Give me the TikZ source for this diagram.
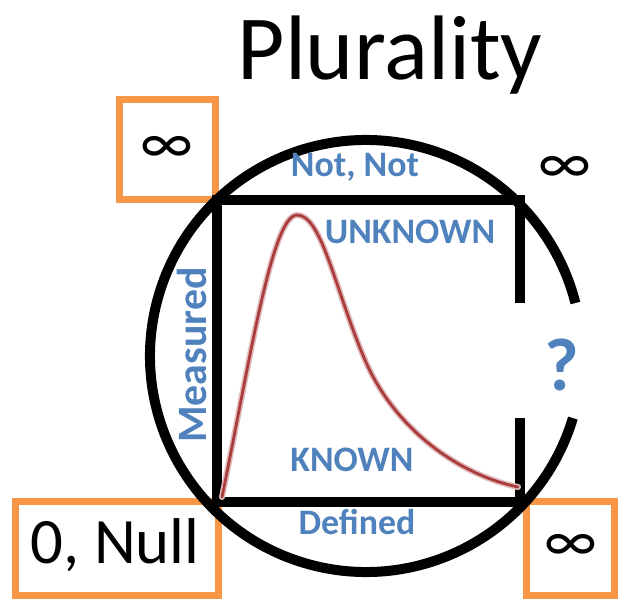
\documentclass[tikz,border=0pt]{standalone}
\usepackage{fontspec}
\setmainfont{Carlito}
\usetikzlibrary{positioning,calc}

\definecolor{labelblue}{RGB}{79,129,189}
\definecolor{boxorange}{RGB}{247,150,70}
\definecolor{curvered}{RGB}{170,60,62}

\begin{document}
\begin{tikzpicture}[
    x=1bp, y=-1bp,
    frame/.style={draw=boxorange, line width=7bp, inner sep=0pt},
    edge/.style={draw=black, line width=10bp},
    tag/.style={text=labelblue, font=\fontsize{36}{36}\selectfont\bfseries, inner sep=0pt},
    sign/.style={font=\fontsize{62}{62}\selectfont, inner sep=0pt}
  ]
    \useasboundingbox (0,0) rectangle (619,599);

    % title
    \node[anchor=base, font=\fontsize{92}{92}\selectfont, inner sep=0pt] (title) at (390,80) {Plurality};

    % orange frames
    \node[frame, minimum width=96bp, minimum height=99bp] (tlbox) at (167,149.5) {};
    \node[frame, minimum width=203bp, minimum height=94bp] (blbox) at (117,548) {};
    \node[frame, minimum width=88bp, minimum height=94bp] (brbox) at (570.5,548) {};
    \node[sign] (inftl) at (tlbox) {∞};
    \node[sign] (inftr) at (565,170) {∞};
    \node[sign] (infbr) at (brbox) {∞};
    \node[font=\fontsize{65}{65}\selectfont, anchor=base, inner sep=0pt] (null) at (115,563) {0, Null};

    % circle with a gap on the right
    \coordinate (centre) at (366,356);
    \draw[edge] (centre) ++(16.7:216) arc[start angle=16.7, end angle=345.8, radius=216];

    % square, open on the right
    \coordinate (nw) at (217,200);
    \coordinate (ne) at (520,200);
    \coordinate (sw) at (217,502);
    \coordinate (se) at (520,502);
    \draw[edge, line join=miter] (520,303) -- (ne) -- (nw) -- (sw) -- (se) -- (520,418);

    % curve
    \draw[curvered!35, line width=6bp, line cap=round]
      (222,497) .. controls (250,360) and (272,215) .. (297,215)
      .. controls (322,215) and (335,290) .. (365,360)
      .. controls (395,430) and (460,475) .. (518,487);
    \draw[curvered, line width=2.8bp, line cap=round]
      (222,497) .. controls (250,360) and (272,215) .. (297,215)
      .. controls (322,215) and (335,290) .. (365,360)
      .. controls (395,430) and (460,475) .. (518,487);

    % labels
    \node[tag] (notnot) at (355,167) {Not, Not};
    \node[tag] (unknown) at (410,232) {UNKNOWN};
    \node[tag] (known) at (352,460) {KNOWN};
    \node[tag] (defined) at (357,522) {Defined};
    \node[tag, font=\fontsize{42}{42}\selectfont\bfseries, rotate=90] (measured) at (192,355) {Measured};
    \node[tag, font=\fontsize{75}{75}\selectfont\bfseries] (query) at (562,365) {?};
  \end{tikzpicture}
\end{document}
